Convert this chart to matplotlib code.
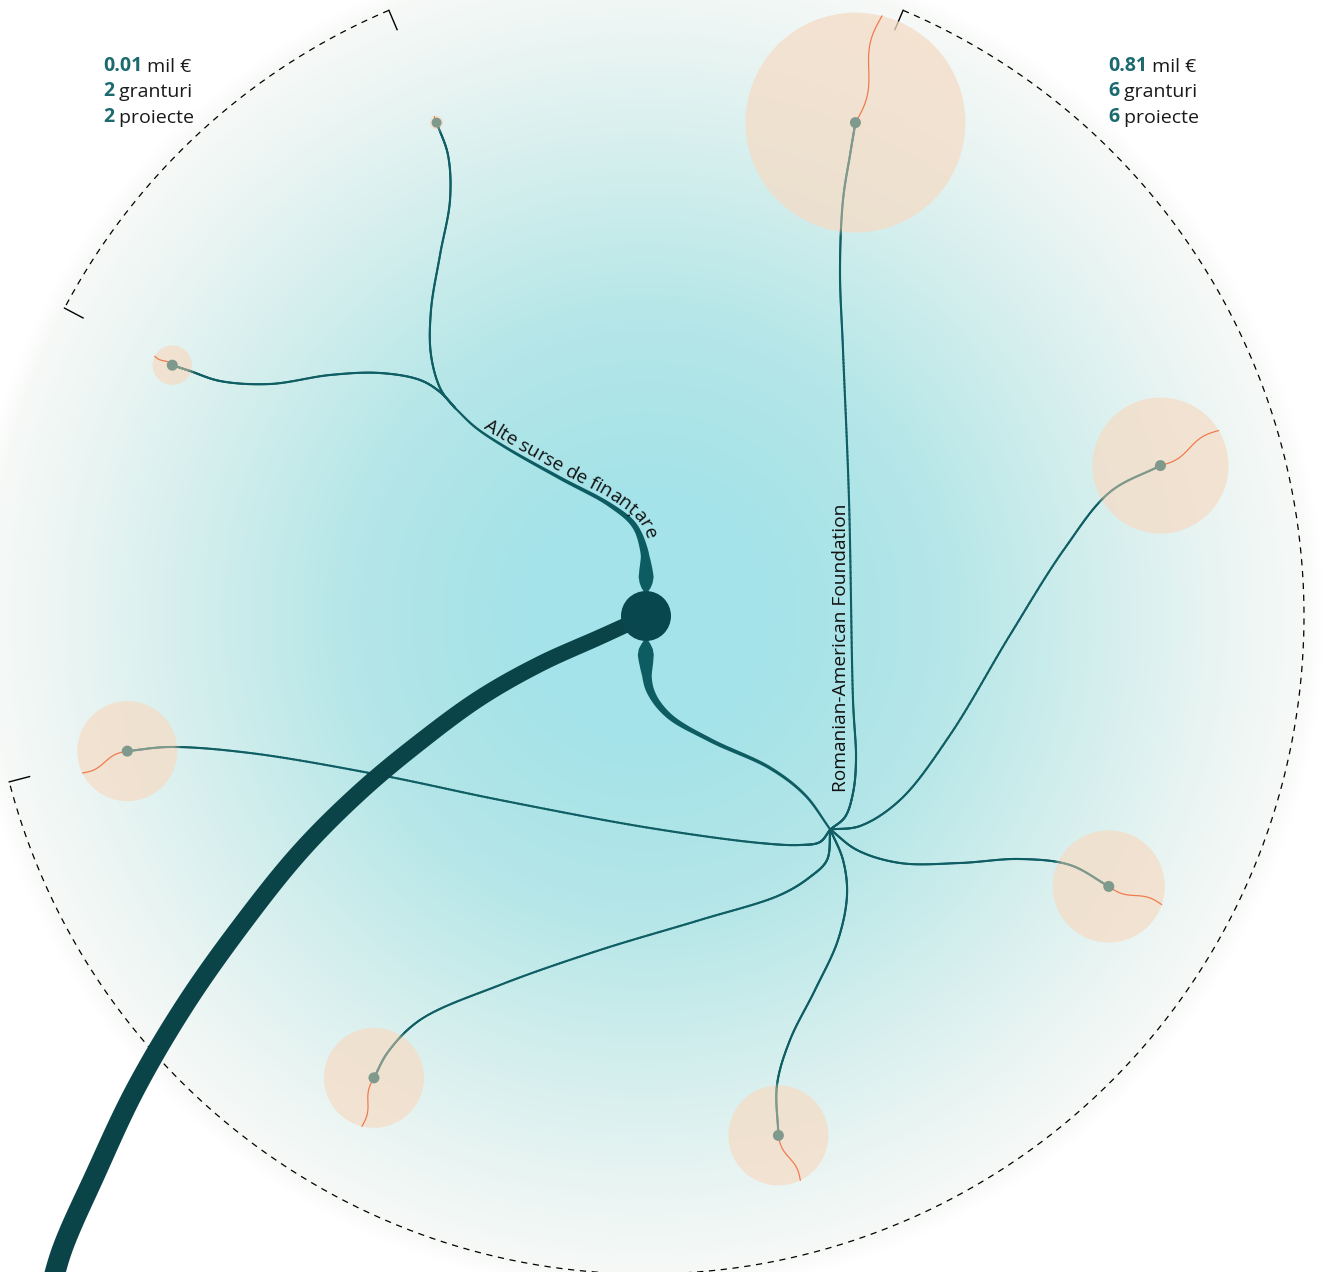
import numpy as np
import matplotlib
matplotlib.use("Agg")
import matplotlib.pyplot as plt
from matplotlib.collections import LineCollection
from matplotlib.patches import Circle, Polygon
from matplotlib.font_manager import FontProperties, findfont, get_font

# ---------------- data ----------------
funders = ["Romanian-American Foundation", "Alte surse de finanțare"]
raf_grants_eur = [358000, 137000, 93000, 74000, 74000, 74000]
other_grants_eur = [1300, 11500]
raf_projects = 6
other_projects = 2

# ---------------- layout ----------------
W, H = 1328, 1272
CX, CY = 646, 616          # centre of the radial layout
LEAF_R = 536               # radius of the grant circles
HUB_R = 282                # radius of the funder hubs
ARC_R = 658                # radius of the dashed brackets
RADIUS_SCALE = 0.1838      # px per sqrt(euro)

raf_angles = [67.0, 16.3, -30.3, -75.7, -120.5, -165.4]
other_angles = [113.0, 152.1]
raf_tail_angles = [76.0, 31.0, -19.0, -64.0, -104.0, -154.0]
other_tail_angles = [110.0, 153.0]

raf_bends = [
    [(845, 817), (853, 793), (856, 760), (853, 700), (849, 500), (843, 350), (840, 270), (843, 200), (850, 155)],
    [(860, 826), (900, 800), (950, 735), (1010, 635), (1065, 548), (1110, 492)],
    [(857, 850), (900, 863), (960, 863), (1020, 859), (1070, 865)],
    [(843, 860), (847, 895), (838, 940), (815, 990), (790, 1040), (777, 1085)],
    [(827, 860), (810, 877), (780, 895), (700, 920), (600, 950), (500, 985), (420, 1020), (388, 1052)],
    [(820, 842), (800, 845), (760, 843), (650, 828), (500, 800), (380, 775), (250, 753), (170, 747)],
]
other_bends = [
    [(441, 390), (431, 355), (431, 310), (440, 255), (450, 200), (448, 155)],
    [(440, 392), (420, 380), (380, 373), (330, 375), (270, 384), (220, 381), (190, 371)],
]
raf_trunk_bends = [(646, 660), (650, 690), (668, 715), (710, 740), (770, 768), (805, 795)]
other_trunk_bends = [(646, 572), (644, 550), (634, 525), (610, 505), (560, 478), (505, 447), (475, 427)]
stem_bends = [(600, 637), (540, 664), (480, 698), (420, 742), (360, 792), (300, 852),
              (240, 927), (185, 1005), (135, 1090), (95, 1175), (62, 1250), (48, 1300)]

NODE_R = 25
TEAL = np.array([15, 94, 100]) / 255
GREY = np.array([127, 153, 140]) / 255
DARK = "#08474d"
STEM = "#0a4449"
PEACH = "#f5dcc6"
ORANGE = "#f0784a"
FONT = ["Open Sans", "DejaVu Sans"]
PX = 0.72  # points per pixel at dpi 100


def polar(angle, r):
    a = np.radians(angle)
    return np.array([CX + r * np.cos(a), CY - r * np.sin(a)])


def catmull_rom(pts, n=40, alpha=0.5):
    P = np.asarray(pts, float)
    P = np.vstack([2 * P[0] - P[1], P, 2 * P[-1] - P[-2]])
    out = []
    for i in range(1, len(P) - 2):
        p0, p1, p2, p3 = P[i - 1], P[i], P[i + 1], P[i + 2]
        t0 = 0.0
        t1 = t0 + max(np.linalg.norm(p1 - p0), 1e-6) ** alpha
        t2 = t1 + max(np.linalg.norm(p2 - p1), 1e-6) ** alpha
        t3 = t2 + max(np.linalg.norm(p3 - p2), 1e-6) ** alpha
        t = np.linspace(t1, t2, n, endpoint=False)[:, None]
        A1 = (t1 - t) / (t1 - t0) * p0 + (t - t0) / (t1 - t0) * p1
        A2 = (t2 - t) / (t2 - t1) * p1 + (t - t1) / (t2 - t1) * p2
        A3 = (t3 - t) / (t3 - t2) * p2 + (t - t2) / (t3 - t2) * p3
        B1 = (t2 - t) / (t2 - t0) * A1 + (t - t0) / (t2 - t0) * A2
        B2 = (t3 - t) / (t3 - t1) * A2 + (t - t1) / (t3 - t1) * A3
        out.append((t2 - t) / (t2 - t1) * B1 + (t - t1) / (t2 - t1) * B2)
    out.append(P[-2][None])
    return np.vstack(out)


def arclen(c):
    return np.concatenate([[0], np.cumsum(np.hypot(*np.diff(c, axis=0).T))])


def normals(c):
    d = np.gradient(c, axis=0)
    d /= np.linalg.norm(d, axis=1)[:, None]
    return np.stack([-d[:, 1], d[:, 0]], axis=1)


def ribbon(c, widths, **kw):
    nrm = normals(c)
    left = c + nrm * widths[:, None] / 2
    right = c - nrm * widths[:, None] / 2
    return Polygon(np.vstack([left, right[::-1]]), closed=True, **kw)


fig = plt.figure(figsize=(W / 100, H / 100), dpi=100)
ax = fig.add_axes([0, 0, 1, 1])

# radial background glow
yy, xx = np.mgrid[0:H, 0:W] + 0.5
tt = np.hypot(xx - CX, yy - CY) / ARC_R
stops_t = [0, 0.2, 0.45, 0.65, 0.85, 1.0, 1.03]
stops_c = [(163, 227, 233), (165, 227, 233), (181, 230, 232), (206, 237, 236),
           (231, 244, 242), (247, 249, 247), (255, 255, 255)]
img = np.stack([np.interp(tt, stops_t, [c[k] for c in stops_c]) for k in range(3)], -1) / 255
ax.imshow(img, extent=(0, W, H, 0), interpolation="bilinear", zorder=0)
ax.set_aspect("auto")
ax.set_xlim(0, W)
ax.set_ylim(H, 0)
ax.axis("off")


def bracket(a_start, a_end):
    ang = np.linspace(a_start, a_end, 400)
    arc = np.array([polar(a, ARC_R) for a in ang])
    ax.plot(arc[:, 0], arc[:, 1], color="black", lw=0.9, ls=(0, (5, 4.5)), zorder=1)
    for a in (a_start, a_end):
        p0, p1 = polar(a, ARC_R), polar(a, ARC_R - 21)
        ax.plot([p0[0], p1[0]], [p0[1], p1[1]], color="black", lw=1.0, zorder=1)


def draw_group(values, angles, tail_angles, bends):
    hub = polar((angles[0] + angles[-1]) / 2, HUB_R)
    for val, ang, tang, bend in zip(values, angles, tail_angles, bends):
        leaf = polar(ang, LEAF_R)
        r = RADIUS_SCALE * np.sqrt(val)
        ax.add_patch(Circle(leaf, r, facecolor=PEACH, alpha=0.75, lw=0, zorder=2))
        c = catmull_rom([hub] + bend + [tuple(leaf)])
        d = np.hypot(c[:, 0] - leaf[0], c[:, 1] - leaf[1])
        mid = (d[:-1] + d[1:]) / 2
        f = np.clip((r - mid + 4) / 8, 0, 1)
        cols = TEAL[None] * (1 - f)[:, None] + GREY[None] * f[:, None]
        segs = np.stack([c[:-1], c[1:]], axis=1)
        ax.add_collection(LineCollection(segs, colors=cols, linewidths=2.1 * PX,
                                         capstyle="round", zorder=3))
        # outgoing wavy tail
        t = np.linspace(0, 1, 80)
        a = np.radians(tang)
        dv = np.array([np.cos(a), -np.sin(a)])
        nv = np.array([np.sin(a), np.cos(a)])
        off = 0.045 * r * np.sin(2 * np.pi * t)
        tail = leaf + np.outer(t * r, dv) + np.outer(off, nv)
        ax.plot(tail[:, 0], tail[:, 1], color=ORANGE, lw=1.2 * PX, zorder=4,
                solid_capstyle="round")
        ax.add_patch(Circle(leaf, min(5.5, max(r * 0.75, 4.8)), facecolor=GREY, lw=0, zorder=5))
    return hub


raf_hub = draw_group(raf_grants_eur, raf_angles, raf_tail_angles, raf_bends)
other_hub = draw_group(other_grants_eur, other_angles, other_tail_angles, other_bends)
bracket(raf_angles[0], raf_angles[-1])
bracket(other_angles[0], other_angles[-1])

# trunks from the central node to the funder hubs (teardrop profile)
prof_s = [0, 3, 8, 14, 22, 35, 60, 110]
raf_trunk = catmull_rom([(CX, CY + NODE_R)] + raf_trunk_bends + [tuple(raf_hub)])
s = arclen(raf_trunk)
w = np.interp(s, prof_s + [s[-1]], [5, 9, 14, 16, 14, 9.5, 7, 4.5, 2.1])
ax.add_patch(ribbon(raf_trunk, w, facecolor="#0d5c62", lw=0, zorder=6))

other_trunk = catmull_rom([(CX, CY - NODE_R)] + other_trunk_bends + [tuple(other_hub)])
s2 = arclen(other_trunk)
w2 = np.interp(s2, prof_s + [s2[-1]], [5, 9, 13, 15, 13, 8.5, 6, 4, 2.1])
ax.add_patch(ribbon(other_trunk, w2, facecolor="#0d5c62", lw=0, zorder=6))

# main incoming stem
stem = catmull_rom([(CX, CY)] + stem_bends)
ws = np.linspace(15, 21, len(stem))
ax.add_patch(ribbon(stem, ws, facecolor=STEM, lw=0, zorder=7))
ax.add_patch(Circle((CX, CY), NODE_R, facecolor=DARK, lw=0, zorder=8))

# funder labels
LABEL_SIZE = 13.8
ax.text(841, 648, funders[0], rotation=90, ha="center", va="center",
        fontsize=LABEL_SIZE, family=FONT, color="#111111", zorder=9)

# curved label: glyph advances taken from the first family that has the glyph
fonts = []
for fam in FONT:
    f_ = get_font(findfont(FontProperties(family=fam), fallback_to_default=True))
    f_.set_size(LABEL_SIZE, 72)
    fonts.append(f_)


def advance(ch):
    for f_ in fonts:
        if f_.get_char_index(ord(ch)) != 0:
            g = f_.load_char(ord(ch))
            return g.linearHoriAdvance / 65536 * 100 / 72
    return LABEL_SIZE * 0.55 * 100 / 72


label = funders[1]
adv = np.array([advance(ch) for ch in label])
centre_line = other_trunk[::-1]
# baseline runs parallel to the trunk, on its outer side
base = centre_line - normals(centre_line) * 4.5
ps = arclen(base)
start = 34.0
centers = start + np.cumsum(adv) - adv / 2
for ch, sc in zip(label, centers):
    x = np.interp(sc, ps, base[:, 0])
    y = np.interp(sc, ps, base[:, 1])
    i = np.clip(np.searchsorted(ps, sc), 2, len(ps) - 2)
    dx, dy = base[i + 1] - base[i - 1]
    ax.text(x, y, ch, rotation=np.degrees(np.arctan2(-dy, dx)), rotation_mode="anchor",
            ha="center", va="baseline", fontsize=LABEL_SIZE, family=FONT, color="#111111", zorder=9)

# summary blocks
def summary(x, y0, total, grants, projects):
    lines = [(f"{total / 1e6:.2f}", " mil €"), (f"{grants}", " granturi"), (f"{projects}", " proiecte")]
    for k, (num, rest) in enumerate(lines):
        t = ax.text(x, y0 + 25.3 * k, num, fontsize=14, family=FONT, weight="bold",
                    color="#1b6a6f", ha="left", va="baseline", zorder=9)
        ax.annotate(rest, xy=(1, 0), xycoords=t, ha="left", va="bottom",
                    fontsize=14, family=FONT, color="#1a1a1a", zorder=9)

summary(103, 71, sum(other_grants_eur), len(other_grants_eur), other_projects)
summary(1108, 71, sum(raf_grants_eur), len(raf_grants_eur), raf_projects)

fig.savefig("out.png", dpi=100)
